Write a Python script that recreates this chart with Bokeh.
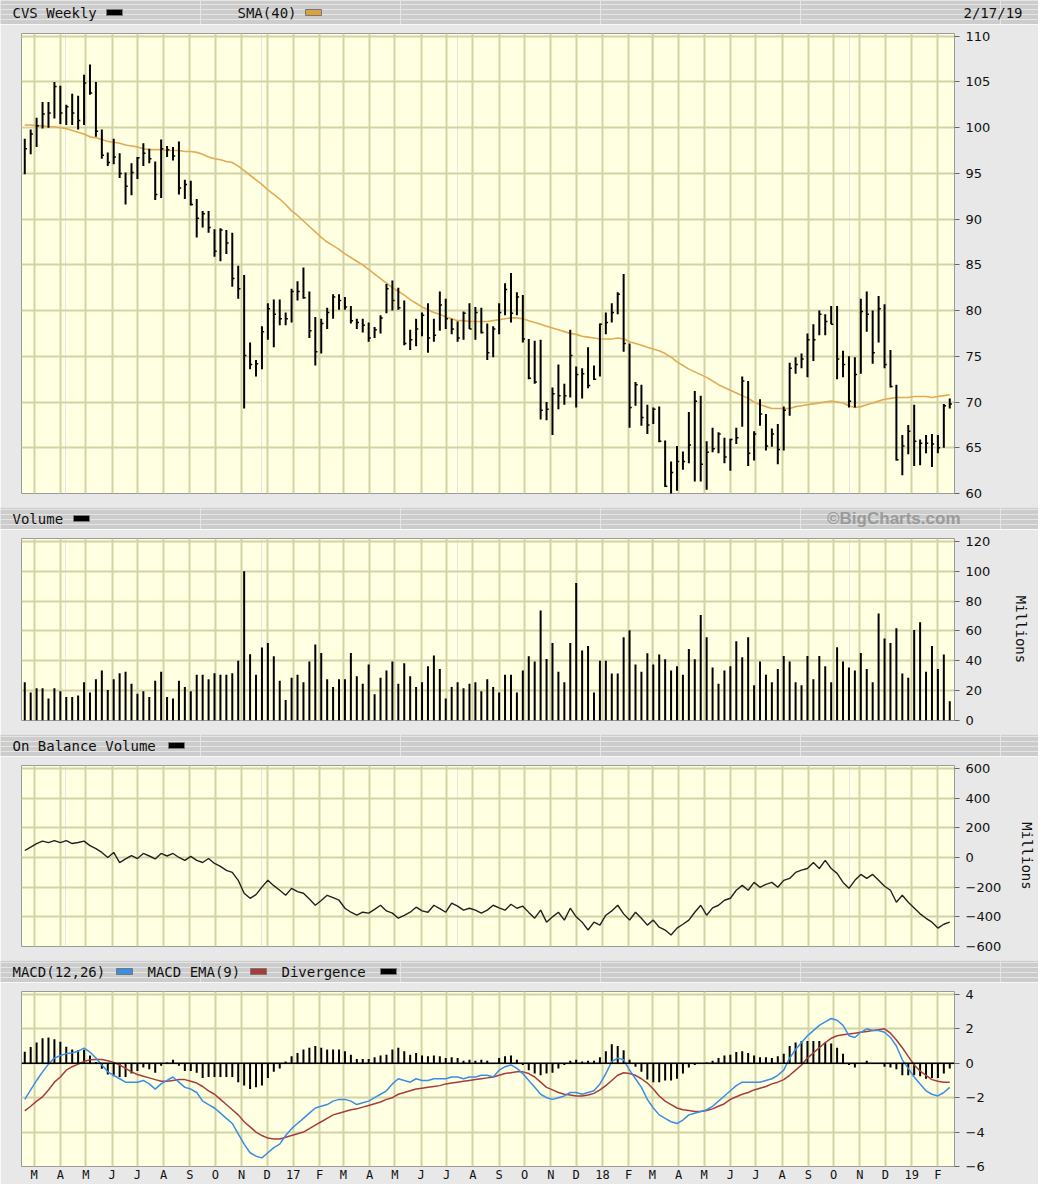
import numpy as np
import pandas as pd
from bokeh.plotting import figure
from bokeh.layouts import column
from bokeh.models import Range1d, FixedTicker, Grid, Span, ColumnDataSource, Label
from bokeh.embed import file_html
from bokeh.resources import INLINE

# ---------------- data ----------------
first_week = "2016-02-19"   # weekly bars, Fridays
n_weeks = 157

high = [98.8, 99.8, 101.1, 102.8, 102.8, 105.0, 104.6, 102.5, 103.7, 103.5,
        105.8, 106.9, 105.0, 99.8, 97.3, 98.8, 97.2, 95.1, 96.1, 96.8,
        98.3, 97.7, 96.3, 98.7, 98.0, 97.9, 98.5, 94.3, 94.2, 92.2,
        90.9, 90.9, 88.9, 89.0, 88.8, 88.5, 84.9, 83.9, 76.5, 74.6,
        78.3, 80.8, 81.2, 81.2, 79.8, 82.4, 83.2, 84.7, 82.1, 79.3,
        79.1, 80.3, 81.8, 81.8, 81.5, 80.5, 79.1, 79.1, 78.7, 78.2,
        79.5, 82.9, 83.3, 82.5, 81.1, 77.9, 79.1, 79.8, 80.8, 79.1,
        82.1, 81.3, 79.1, 78.8, 79.9, 80.8, 80.4, 80.3, 78.6, 78.3,
        80.8, 83.0, 84.1, 82.0, 81.7, 76.9, 76.7, 76.8, 70.0, 71.6,
        74.1, 72.0, 77.9, 73.9, 73.7, 76.0, 74.0, 78.6, 79.8, 80.8,
        82.0, 84.0, 76.4, 72.2, 71.9, 69.7, 69.4, 69.5, 65.8, 63.5,
        65.2, 64.6, 68.9, 71.2, 70.7, 65.7, 67.2, 66.7, 66.1, 66.0,
        67.2, 72.8, 72.3, 66.8, 70.3, 68.7, 67.1, 67.6, 69.5, 74.3,
        74.9, 75.3, 77.5, 78.5, 80.0, 79.6, 80.5, 80.5, 75.6, 75.0,
        74.9, 81.3, 82.1, 80.0, 81.6, 80.7, 75.7, 71.9, 66.4, 67.5,
        69.7, 65.9, 66.4, 66.5, 66.4, 69.8, 70.4]

low = [94.9, 97.1, 97.9, 99.9, 100.0, 101.0, 100.4, 100.3, 100.3, 99.8,
       100.3, 103.6, 99.0, 96.6, 95.8, 96.0, 94.5, 91.6, 92.6, 94.4,
       95.8, 96.1, 92.1, 92.3, 96.8, 96.4, 92.7, 92.2, 91.5, 88.0,
       89.1, 88.5, 85.9, 85.4, 86.2, 82.6, 81.3, 69.3, 73.6, 72.8,
       73.6, 76.8, 76.0, 78.4, 78.4, 78.7, 81.1, 81.3, 77.0, 74.0,
       75.3, 78.0, 79.1, 80.1, 80.1, 78.6, 78.0, 77.6, 76.6, 77.0,
       77.5, 79.7, 80.0, 80.1, 76.2, 75.7, 76.1, 77.2, 75.4, 76.6,
       77.8, 78.0, 77.4, 76.6, 76.8, 78.0, 76.8, 77.5, 74.6, 74.9,
       77.4, 79.5, 78.7, 79.5, 76.5, 72.5, 72.0, 68.1, 68.0, 66.4,
       69.2, 69.7, 70.5, 69.4, 70.4, 71.5, 72.4, 72.8, 77.4, 78.7,
       79.6, 75.5, 67.2, 69.6, 67.4, 66.5, 67.6, 65.6, 60.7, 59.9,
       60.3, 62.6, 63.3, 61.3, 61.3, 60.4, 64.5, 64.4, 63.3, 62.5,
       65.4, 67.3, 63.0, 63.6, 67.4, 64.7, 65.1, 63.2, 64.7, 68.5,
       73.1, 73.7, 72.7, 74.5, 77.3, 77.3, 78.5, 72.5, 72.7, 69.4,
       69.4, 73.1, 77.7, 74.2, 76.5, 73.7, 71.6, 63.6, 62.0, 64.3,
       63.0, 63.1, 64.4, 62.9, 64.4, 65.0, 69.3]

close = [97.7, 99.3, 100.2, 101.5, 101.6, 104.5, 101.6, 102.3, 101.6, 100.8,
         104.9, 103.8, 99.6, 97.0, 96.2, 96.8, 95.0, 93.6, 95.1, 96.7,
         97.2, 96.6, 92.7, 97.7, 97.6, 96.9, 93.4, 93.8, 91.6, 90.1,
         90.6, 89.1, 86.5, 88.8, 87.4, 83.5, 82.4, 75.1, 74.1, 74.2,
         77.7, 80.2, 79.6, 79.1, 79.1, 82.1, 82.1, 81.4, 77.8, 75.5,
         78.6, 79.8, 81.5, 81.1, 80.4, 78.9, 78.7, 78.4, 77.0, 77.9,
         79.2, 82.4, 81.1, 80.3, 76.4, 76.8, 78.0, 79.5, 77.0, 77.3,
         80.6, 79.1, 78.0, 77.0, 79.7, 78.0, 79.8, 77.6, 75.4, 78.0,
         79.8, 82.3, 79.7, 81.5, 76.9, 72.6, 72.2, 69.1, 69.2, 70.9,
         70.7, 70.7, 75.1, 73.0, 73.1, 71.8, 72.5, 78.5, 78.7, 79.8,
         81.8, 76.4, 69.4, 71.9, 68.3, 67.5, 69.2, 65.7, 60.8, 62.3,
         63.5, 63.5, 65.3, 70.1, 63.2, 64.5, 64.9, 66.5, 64.0, 65.9,
         66.1, 72.3, 64.4, 66.5, 68.7, 65.2, 66.5, 64.8, 69.1, 73.7,
         74.1, 74.7, 76.8, 76.8, 79.6, 78.8, 78.5, 74.7, 74.1, 70.1,
         73.0, 79.9, 79.6, 75.4, 80.2, 74.1, 71.7, 63.7, 65.2, 66.8,
         65.7, 65.5, 65.5, 65.4, 65.0, 69.6, 69.8]

sma40 = [100.3, 100.3, 100.2, 100.2, 100.1, 100.1, 100.0, 99.9, 99.7, 99.5,
         99.3, 99.0, 98.9, 98.7, 98.5, 98.4, 98.3, 98.1, 98.0, 97.9,
         97.7, 97.6, 97.6, 97.6, 97.5, 97.5, 97.5, 97.4, 97.4, 97.3,
         97.1, 96.8, 96.6, 96.5, 96.3, 96.2, 95.8, 95.3, 94.8, 94.3,
         93.8, 93.2, 92.7, 92.2, 91.6, 90.9, 90.4, 89.8, 89.2, 88.6,
         88.0, 87.5, 87.1, 86.7, 86.2, 85.8, 85.4, 85.0, 84.5, 84.0,
         83.5, 83.0, 82.5, 82.1, 81.7, 81.2, 80.8, 80.4, 80.1, 79.8,
         79.6, 79.3, 79.1, 78.9, 78.9, 78.8, 78.8, 78.8, 78.8, 78.9,
         79.0, 79.1, 79.2, 79.2, 79.1, 78.9, 78.7, 78.5, 78.3, 78.1,
         77.9, 77.7, 77.5, 77.4, 77.2, 77.1, 77.0, 76.9, 76.9, 76.9,
         77.0, 76.9, 76.6, 76.4, 76.2, 76.0, 75.8, 75.6, 75.3, 74.9,
         74.4, 74.0, 73.6, 73.3, 73.0, 72.7, 72.3, 71.9, 71.6, 71.3,
         71.0, 70.7, 70.4, 70.0, 69.7, 69.5, 69.3, 69.3, 69.3, 69.3,
         69.5, 69.6, 69.7, 69.8, 69.9, 70.0, 70.1, 70.0, 69.9, 69.6,
         69.4, 69.5, 69.7, 69.9, 70.1, 70.3, 70.4, 70.5, 70.5, 70.5,
         70.6, 70.6, 70.6, 70.5, 70.6, 70.7, 70.8]

volume_m = [25.7, 18.8, 21.6, 21.6, 14.7, 21.6, 19.6, 15.8, 15.8, 16.7,
            25.7, 18.8, 27.7, 33.5, 20.5, 27.7, 31.7, 32.6, 24.6, 17.9,
            19.6, 15.8, 26.6, 32.6, 15.8, 14.7, 26.6, 22.5, 19.6, 30.6,
            30.6, 27.7, 31.7, 30.6, 30.6, 31.7, 40.0, 100.0, 44.4, 30.6,
            48.9, 52.0, 43.0, 26.6, 13.8, 28.6, 30.6, 25.7, 39.5, 50.9,
            45.3, 27.7, 22.5, 27.7, 27.7, 45.3, 29.7, 24.6, 37.5, 17.6,
            28.6, 33.5, 39.5, 24.6, 38.4, 29.7, 22.5, 25.7, 36.4, 43.5,
            34.6, 14.7, 22.5, 25.7, 21.6, 24.6, 25.7, 19.6, 27.7, 22.5,
            18.8, 30.6, 30.6, 18.8, 33.5, 43.0, 39.5, 73.7, 41.3, 52.0,
            32.6, 25.7, 52.0, 92.2, 46.9, 50.0, 18.8, 40.0, 40.0, 31.5,
            31.5, 55.8, 60.5, 37.5, 32.6, 45.1, 37.5, 44.2, 41.0, 33.5,
            36.4, 30.6, 48.0, 41.0, 70.8, 55.8, 35.5, 24.6, 33.5, 36.4,
            53.1, 42.4, 55.8, 23.7, 39.5, 30.6, 25.7, 34.6, 43.3, 39.5,
            25.7, 23.7, 43.3, 27.7, 43.3, 36.4, 25.7, 49.1, 39.5, 35.5,
            33.5, 45.3, 34.6, 25.7, 71.7, 54.9, 52.0, 61.8, 31.5, 28.6,
            60.7, 65.8, 32.6, 50.0, 34.6, 44.2, 12.9]

obv_m = [47, 70, 94, 110, 100, 114, 100, 114, 94, 101,
         110, 80, 60, 34, 0, 34, -34, -10, 13, -7,
         27, 10, -10, 27, 10, 27, 0, -20, 7, -20,
         -34, -7, -40, -60, -87, -100, -154, -241, -275, -250,
         -200, -154, -190, -221, -255, -208, -230, -241, -280, -322,
         -290, -255, -270, -288, -342, -369, -389, -369, -375, -350,
         -322, -360, -375, -409, -390, -369, -335, -360, -369, -322,
         -345, -369, -308, -328, -355, -342, -355, -375, -355, -322,
         -340, -355, -315, -342, -328, -370, -409, -355, -436, -400,
         -369, -422, -342, -400, -436, -489, -436, -456, -389, -360,
         -322, -380, -422, -369, -410, -456, -422, -470, -489, -523,
         -476, -450, -422, -369, -322, -389, -340, -322, -288, -275,
         -221, -188, -221, -168, -201, -181, -168, -201, -154, -141,
         -101, -85, -74, -34, -74, -20, -74, -107, -168, -208,
         -154, -114, -141, -114, -154, -194, -221, -302, -255, -302,
         -340, -380, -410, -436, -476, -450, -436]

macd = [-2.1, -1.55, -1.0, -0.5, -0.05, 0.3, 0.45, 0.56, 0.6, 0.7,
        0.88, 0.65, 0.3, -0.1, -0.5, -0.7, -0.9, -1.1, -1.1, -1.1,
        -1.0, -1.2, -1.5, -1.2, -1.0, -0.8, -1.1, -1.4, -1.5, -1.7,
        -2.2, -2.4, -2.6, -2.9, -3.2, -3.5, -4.1, -4.7, -5.2, -5.4,
        -5.5, -5.2, -4.9, -4.7, -4.2, -3.8, -3.5, -3.2, -2.9, -2.6,
        -2.5, -2.4, -2.2, -2.1, -2.1, -2.2, -2.4, -2.3, -2.2, -2.0,
        -1.8, -1.6, -1.2, -0.9, -1.0, -1.1, -0.9, -1.0, -1.0, -0.9,
        -0.9, -0.9, -0.8, -0.8, -0.9, -0.8, -0.8, -0.7, -0.7, -0.8,
        -0.4, -0.2, -0.1, -0.3, -0.6, -1.0, -1.4, -1.8, -2.0, -2.1,
        -2.0, -1.9, -1.7, -1.7, -1.8, -1.7, -1.6, -1.2, -0.6, 0.1,
        0.3, 0.2, -0.4, -0.9, -1.4, -2.1, -2.6, -3.0, -3.2, -3.4,
        -3.5, -3.3, -3.0, -2.9, -2.8, -2.7, -2.5, -2.2, -1.9, -1.6,
        -1.3, -1.1, -1.1, -1.1, -1.1, -1.0, -0.9, -0.7, -0.4, 0.3,
        0.8, 1.2, 1.6, 1.9, 2.2, 2.4, 2.6, 2.5, 2.2, 1.6,
        1.5, 1.8, 2.0, 1.9, 1.9, 1.8, 1.5, 1.0, 0.2, -0.3,
        -0.8, -1.2, -1.6, -1.8, -1.9, -1.7, -1.4]

macd_ema9 = [-2.77, -2.5, -2.2, -1.95, -1.55, -1.1, -0.8, -0.4, -0.2, -0.05,
             0.1, 0.2, 0.22, 0.22, 0.15, 0.05, -0.1, -0.3, -0.5, -0.65,
             -0.75, -0.85, -0.95, -1.05, -1.05, -1.0, -0.95, -0.95, -1.05, -1.15,
             -1.35, -1.6, -1.8, -2.1, -2.4, -2.7, -3.0, -3.4, -3.7, -4.0,
             -4.2, -4.35, -4.4, -4.4, -4.3, -4.2, -4.1, -4.0, -3.8, -3.6,
             -3.4, -3.2, -3.0, -2.9, -2.8, -2.7, -2.65, -2.55, -2.45, -2.35,
             -2.25, -2.1, -2.0, -1.8, -1.7, -1.6, -1.5, -1.45, -1.4, -1.35,
             -1.3, -1.2, -1.15, -1.1, -1.05, -1.0, -0.95, -0.9, -0.85, -0.8,
             -0.7, -0.6, -0.55, -0.5, -0.5, -0.6, -0.8, -1.1, -1.4, -1.55,
             -1.7, -1.8, -1.85, -1.9, -1.9, -1.85, -1.75, -1.55, -1.3, -1.0,
             -0.7, -0.55, -0.6, -0.7, -0.9, -1.15, -1.5, -1.9, -2.2, -2.4,
             -2.6, -2.7, -2.75, -2.8, -2.8, -2.75, -2.65, -2.5, -2.35, -2.1,
             -1.95, -1.8, -1.7, -1.55, -1.45, -1.35, -1.2, -1.1, -0.95, -0.7,
             -0.4, -0.1, 0.3, 0.6, 0.9, 1.2, 1.45, 1.6, 1.65, 1.7,
             1.75, 1.8, 1.85, 1.9, 1.95, 2.0, 1.75, 1.35, 0.9, 0.4,
             -0.1, -0.45, -0.7, -0.95, -1.05, -1.1, -1.1]

month_starts = ["2016-03-01", "2016-04-01", "2016-05-01", "2016-06-01", "2016-07-01",
                "2016-08-01", "2016-09-01", "2016-10-01", "2016-11-01", "2016-12-01",
                "2017-01-01", "2017-02-01", "2017-03-01", "2017-04-01", "2017-05-01",
                "2017-06-01", "2017-07-01", "2017-08-01", "2017-09-01", "2017-10-01",
                "2017-11-01", "2017-12-01", "2018-01-01", "2018-02-01", "2018-03-01",
                "2018-04-01", "2018-05-01", "2018-06-01", "2018-07-01", "2018-08-01",
                "2018-09-01", "2018-10-01", "2018-11-01", "2018-12-01", "2019-01-01",
                "2019-02-01"]
month_labels = ["M", "A", "M", "J", "J", "A", "S", "O", "N", "D", "17", "F",
                "M", "A", "M", "J", "J", "A", "S", "O", "N", "D", "18", "F",
                "M", "A", "M", "J", "J", "A", "S", "O", "N", "D", "19", "F"]

price_ticks = [60, 65, 70, 75, 80, 85, 90, 95, 100, 105, 110]
volume_ticks = [0, 20, 40, 60, 80, 100, 120]
obv_ticks = [-600, -400, -200, 0, 200, 400, 600]
macd_ticks = [-6, -4, -2, 0, 2, 4]

# ---------------- styling ----------------
W = 1038
LEFT, RIGHT = 21, 78
PAGE_BG = "#e8e8e8"
PLOT_BG = "#ffffe2"
GRID_C = "#d3d3a4"
BAND = "#cccccc"
MONO = "DejaVu Sans Mono"
SANS = "DejaVu Sans"

DAY = 86400000.0
WEEK = 7 * DAY

dates = pd.date_range(first_week, periods=n_weeks, freq="W-FRI")
xs = dates.values.astype("datetime64[ms]").astype(np.int64).astype(float)
mticks = [float(v) for v in pd.to_datetime(month_starts).values.astype("datetime64[ms]").astype(np.int64)]

x_range = Range1d(xs[0] - 0.55 * WEEK, xs[-1] + 0.8 * WEEK)

src = ColumnDataSource(dict(
    x=xs, xr=xs + 2.6 * DAY, high=high, low=low, close=close, sma=sma40,
    vol=volume_m, zero=[0.0] * n_weeks, obv=obv_m, macd=macd, ema=macd_ema9,
    div=list(np.array(macd) - np.array(macd_ema9)),
))


def header(h, ym, texts, swatches, right_texts=()):
    # full-width frame (not aligned to the charts); data x == page pixel x
    p = figure(width=W, height=h, x_range=Range1d(0, W), y_range=Range1d(0, h),
               min_border=0, frame_align=False, toolbar_location=None, output_backend="svg",
               x_axis_location=None, y_axis_location=None,
               background_fill_color=BAND, border_fill_color=BAND, outline_line_color=None)
    for tx, txt in texts:
        p.add_layout(Label(x=tx, y=ym, text=txt, text_font=MONO, text_font_size="14px",
                           text_baseline="middle", text_color="#111111"))
    if swatches:
        p.quad(left=[s[0] for s in swatches], right=[s[0] + 16 for s in swatches],
               bottom=[ym - 3] * len(swatches), top=[ym + 3] * len(swatches),
               fill_color=[s[1] for s in swatches], line_color="#777777", line_width=1)
    for rx, txt, font, size, style, col in right_texts:
        p.add_layout(Label(x=rx, y=ym, text=txt, text_font=font, text_font_size=size,
                           text_font_style=style, text_color=col, text_align="right",
                           text_baseline="middle"))
    return p


def chart(h, top, bottom, yr, yticks, axis_label=None, label_standoff=20, xaxis=False):
    p = figure(width=W, height=h, x_range=x_range, y_range=Range1d(*yr),
               min_border_left=LEFT, min_border_right=RIGHT,
               min_border_top=top, min_border_bottom=bottom,
               toolbar_location=None, output_backend="svg",
               x_axis_location="below" if xaxis else None, y_axis_location="right",
               background_fill_color=PLOT_BG, border_fill_color=PAGE_BG,
               outline_line_color="#9a9a9a", outline_line_width=1)
    ax = p.yaxis[0]
    ax.ticker = FixedTicker(ticks=yticks)
    ax.axis_line_color = None
    ax.major_tick_out = 5
    ax.major_tick_in = 0
    ax.minor_tick_out = 0
    ax.minor_tick_in = 0
    ax.major_tick_line_color = "#666666"
    ax.major_label_standoff = 6
    ax.major_label_text_font = SANS
    ax.major_label_text_font_size = "13px"
    ax.major_label_text_color = "#111111"
    if axis_label:
        ax.axis_label = axis_label
        ax.axis_label_text_font = MONO
        ax.axis_label_text_font_size = "14px"
        ax.axis_label_text_font_style = "normal"
        ax.axis_label_text_color = "#111111"
        ax.axis_label_standoff = label_standoff
    p.ygrid.grid_line_color = GRID_C
    p.ygrid.grid_line_width = 2
    if xaxis:
        xa = p.xaxis[0]
        xa.ticker = FixedTicker(ticks=mticks)
        xa.major_label_overrides = {t: l for t, l in zip(mticks, month_labels)}
        xa.axis_line_color = None
        xa.major_tick_out = 0
        xa.major_tick_in = 0
        xa.minor_tick_out = 0
        xa.minor_tick_in = 0
        xa.major_label_standoff = 1
        xa.major_label_text_font = MONO
        xa.major_label_text_font_size = "12px"
        xa.major_label_text_color = "#111111"
        p.xgrid.grid_line_color = GRID_C
        p.xgrid.grid_line_width = 2
    else:
        p.add_layout(Grid(dimension=0, ticker=FixedTicker(ticks=mticks),
                          grid_line_color=GRID_C, grid_line_width=2))
    return p


# ---------------- panels ----------------
h1 = header(24, 12, [(12, "CVS Weekly"), (237, "SMA(40)")],
            [(106, "#000000"), (305, "#d9a241")],
            [(1022, "2/17/19", MONO, "14px", "normal", "#111111")])

pp = chart(483, 9, 14, (60, 110.3), price_ticks)
pp.line("x", "sma", source=src, line_color="#e2aa55", line_width=1.6)
pp.segment(x0="x", y0="low", x1="x", y1="high", source=src, line_color="#000000", line_width=2)
pp.segment(x0="x", y0="close", x1="xr", y1="close", source=src, line_color="#000000", line_width=1.5)

h2 = header(22, 11, [(12, "Volume")], [(73, "#000000")],
            [(960, "©BigCharts.com", "Liberation Sans", "17px", "bold", "#9a9a9a")])

pv = chart(205, 9, 14, (0, 122), volume_ticks, axis_label="Millions", label_standoff=20)
pv.segment(x0="x", y0="zero", x1="x", y1="vol", source=src, line_color="#000000", line_width=2)

h3 = header(22, 11, [(12, "On Balance Volume")], [(168, "#000000")])

po = chart(204, 9, 14, (-600, 620), obv_ticks, axis_label="Millions", label_standoff=15)
po.line("x", "obv", source=src, line_color="#222222", line_width=1.4)

h4 = header(22, 11, [(12, "MACD(12,26)"), (147, "MACD EMA(9)"), (281, "Divergence")],
            [(116, "#3a8ee6"), (250, "#a83c3c"), (380, "#000000")])

pm = chart(202, 9, 15, (-6, 4.17), macd_ticks, xaxis=True)
pm.segment(x0="x", y0="zero", x1="x", y1="div", source=src, line_color="#000000", line_width=2)
pm.add_layout(Span(location=0, dimension="width", line_color="#000000", line_width=1.5))
pm.line("x", "ema", source=src, line_color="#a83c3c", line_width=1.5)
pm.line("x", "macd", source=src, line_color="#3a8ee6", line_width=1.5)

layout = column(h1, pp, h2, pv, h3, po, h4, pm, spacing=0)

open("out.html", "w").write(file_html(layout, INLINE))
